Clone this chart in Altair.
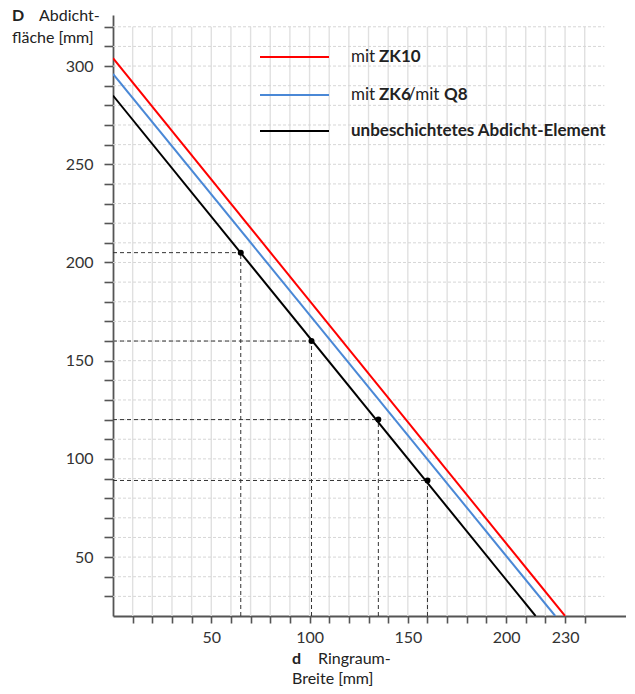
import altair as alt
import pandas as pd

# ---------------- data ----------------
series_names = ["mit ZK10", "mit ZK6/mit Q8", "unbeschichtetes Abdicht-Element"]
series_colors = ["#ff0000", "#4a88d6", "#000000"]

red_d = [0, 230]
red_D = [304, 20]
blue_d = [0, 225]
blue_D = [296, 20]
black_d = [0, 215]
black_D = [285, 20]

point_d = [65, 101, 135, 160]
point_D = [205, 160, 120, 89]

x_ticks = list(range(10, 250, 10))
x_labels = [50, 100, 150, 200, 230]
y_ticks = list(range(30, 330, 10))
y_labels = [50, 100, 150, 200, 250, 300]

grid_x = list(range(10, 250, 10))
grid_y = list(range(30, 330, 10))
D_MIN = 20
GRID_TOP = 320
GRID_RIGHT = 250

FONT = "Lato"

# ---------------- scales / axes ----------------
xs = alt.Scale(domain=[0, 261], nice=False, zero=False)
ys = alt.Scale(domain=[20, 326], nice=False, zero=False)

x_axis = alt.Axis(
    values=x_ticks,
    labelExpr="indexof([%s], datum.value) >= 0 ? datum.label : ''" % ",".join(str(v) for v in x_labels),
    grid=False, tickSize=7, tickColor="#555", tickWidth=1.6,
    domainColor="#555", domainWidth=1.8,
    labelFont=FONT, labelFontSize=16, labelColor="#333", labelPadding=6,
    labelOverlap=False, labelFlush=False, title=None,
)
y_axis = alt.Axis(
    values=y_ticks,
    labelExpr="indexof([%s], datum.value) >= 0 ? datum.label : ''" % ",".join(str(v) for v in y_labels),
    grid=False, tickSize=9, tickColor="#555", tickWidth=1.6,
    domainColor="#555", domainWidth=1.8,
    labelFont=FONT, labelFontSize=16, labelColor="#333", labelPadding=11,
    labelOverlap=False, labelFlush=False, title=None,
)


def X(f):
    return alt.X(f, type="quantitative", scale=xs, axis=x_axis)


def Y(f):
    return alt.Y(f, type="quantitative", scale=ys, axis=y_axis)


# ---------------- grid ----------------
vgrid = alt.Chart(pd.DataFrame({"d": grid_x, "lo": D_MIN, "hi": GRID_TOP})).mark_rule(
    color="#e0e0e0", strokeWidth=1.4
).encode(x=X("d"), y=Y("lo"), y2="hi")

hgrid = alt.Chart(pd.DataFrame({"D": grid_y, "lo": 0, "hi": GRID_RIGHT})).mark_rule(
    color="#d6d6d6", strokeWidth=1, strokeDash=[3, 2]
).encode(y=Y("D"), x=X("lo"), x2="hi")

# ---------------- guide lines ----------------
guides_h = alt.Chart(pd.DataFrame({"d": point_d, "D": point_D, "lo": 0})).mark_rule(
    color="#333", strokeWidth=1, strokeDash=[4, 3]
).encode(y=Y("D"), x=X("lo"), x2="d")

guides_v = alt.Chart(pd.DataFrame({"d": point_d, "D": point_D, "lo": D_MIN})).mark_rule(
    color="#333", strokeWidth=1, strokeDash=[4, 3]
).encode(x=X("d"), y=Y("lo"), y2="D")

# ---------------- series lines ----------------
lines_df = pd.concat([
    pd.DataFrame({"d": red_d, "D": red_D, "s": series_names[0]}),
    pd.DataFrame({"d": blue_d, "D": blue_D, "s": series_names[1]}),
    pd.DataFrame({"d": black_d, "D": black_D, "s": series_names[2]}),
])
lines = alt.Chart(lines_df).mark_line(strokeWidth=2, clip=True).encode(
    x=X("d"), y=Y("D"),
    color=alt.Color("s:N", scale=alt.Scale(domain=series_names, range=series_colors), legend=None),
    detail="s:N",
)

points = alt.Chart(pd.DataFrame({"d": point_d, "D": point_D})).mark_circle(
    color="#000", size=36, opacity=1
).encode(x=X("d"), y=Y("D"))

# ---------------- manual legend ----------------
one = pd.DataFrame({"k": [0]})
legend_rows_y = [42, 80, 116]
legend_layers = []
for yy, col in zip(legend_rows_y, series_colors):
    legend_layers.append(
        alt.Chart(one).mark_rule(color=col, strokeWidth=2).encode(
            x=alt.value(147), x2=alt.value(216), y=alt.value(yy)
        )
    )


def txt(t, x, y, bold=False, size=16, baseline="middle"):
    return alt.Chart(one).mark_text(
        text=t, font=FONT, fontSize=size, fontWeight="bold" if bold else "normal",
        color="#222", align="left", baseline=baseline,
    ).encode(x=alt.value(x), y=alt.value(y))


LS = 17
legend_layers += [
    txt("mit", 238, 42, size=LS), txt("ZK10", 266, 42, True, size=LS),
    txt("mit", 238, 80, size=LS), txt("ZK6", 266, 80, True, size=LS),
    txt("/mit", 295, 80, size=LS), txt("Q8", 331, 80, True, size=LS),
    txt(series_names[2], 238, 116, True, size=LS),
]

# ---------------- axis titles ----------------
titles = [
    txt("D", -101, 6, True, baseline="alphabetic"),
    txt("Abdicht-", -74, 6, baseline="alphabetic"),
    txt("fläche [mm]", -101, 28, baseline="alphabetic"),
    txt("d", 179, 649, True, baseline="alphabetic"),
    txt("Ringraum-", 205, 649, baseline="alphabetic"),
    txt("Breite [mm]", 179, 669, baseline="alphabetic"),
]

chart = alt.layer(
    vgrid, hgrid, guides_h, guides_v, lines, points, *legend_layers, *titles
).properties(
    width=513, height=601,
    autosize=alt.AutoSizeParams(type="none"),
    padding={"left": 105, "top": 7, "right": 0, "bottom": 72},
    background="white",
).configure_view(stroke=None)

chart.save("out.html", embed_options={"renderer": "svg", "actions": False})
